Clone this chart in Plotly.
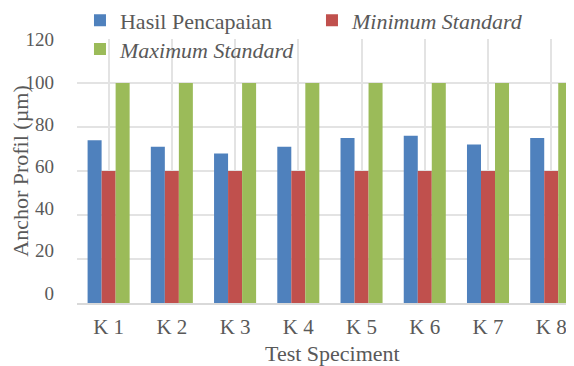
import plotly.graph_objects as go

categories = ["K 1", "K 2", "K 3", "K 4", "K 5", "K 6", "K 7", "K 8"]
hasil = [74, 71, 68, 71, 75, 76, 72, 75]
minimum = [60, 60, 60, 60, 60, 60, 60, 60]
maximum = [100, 100, 100, 100, 100, 100, 100, 100]
y_ticks = [0, 20, 40, 60, 80, 100, 120]

FONT = "Liberation Serif"
GREY = "#595959"
LFONT = dict(family=FONT, size=22, color=GREY)

fig = go.Figure()
fig.add_trace(go.Bar(x=categories, y=hasil, name="Hasil Pencapaian", marker=dict(color="#4f81bd", line=dict(width=0)), legend="legend"))
fig.add_trace(go.Bar(x=categories, y=minimum, name="<i>Minimum Standard</i>", marker=dict(color="#c0504d", line=dict(width=0)), legend="legend"))
fig.add_trace(go.Bar(x=categories, y=maximum, name="<i>Maximum Standard</i>", marker=dict(color="#9bbb59", line=dict(width=0)), legend="legend2"))
# axis used only for the tick labels (which sit slightly above the gridlines in the original)
fig.add_trace(go.Scatter(x=[], y=[], yaxis="y2", showlegend=False, hoverinfo="skip"))

fig.update_layout(
    width=566, height=358,
    margin=dict(l=69, r=0, t=31, b=63, autoexpand=False),
    paper_bgcolor="white", plot_bgcolor="white",
    font=LFONT,
    barmode="group", bargap=0.335, bargroupgap=0,
    showlegend=True,
    legend=dict(orientation="h", x=0.006, xanchor="left", y=1.15, yanchor="top",
                entrywidth=187, entrywidthmode="pixels",
                font=LFONT, bgcolor="rgba(0,0,0,0)"),
    legend2=dict(orientation="h", x=0.006, xanchor="left", y=1.041, yanchor="top",
                 font=LFONT, bgcolor="rgba(0,0,0,0)"),
    annotations=[dict(text="Test Speciment", xref="paper", yref="paper", x=0.515, y=-0.193,
                      xanchor="center", yanchor="middle", showarrow=False, font=LFONT)],
    yaxis2=dict(overlaying="y", side="left", range=[-4.7, 120.3], tickvals=y_ticks,
                showgrid=False, zeroline=False, showline=False, ticks="",
                ticklabelstandoff=22, automargin=False,
                tickfont=dict(family=FONT, size=19, color=GREY),
                title=dict(text="Anchor Profil (µm)", font=LFONT, standoff=4)),
)
fig.update_xaxes(
    range=[-0.5, 7.36], showgrid=True, gridcolor="#e3e3e3", gridwidth=2,
    showline=True, linecolor="#d9d9d9", linewidth=2, automargin=False,
    ticks="", ticklabelstandoff=4, tickfont=dict(family=FONT, size=21, color=GREY),
)
fig.update_layout(yaxis=dict(
    range=[0, 120], tickvals=y_ticks, showgrid=True, gridcolor="#e3e3e3", gridwidth=2,
    zeroline=False, showline=False, ticks="", showticklabels=False, automargin=False,
))

fig.write_html("out.html")
